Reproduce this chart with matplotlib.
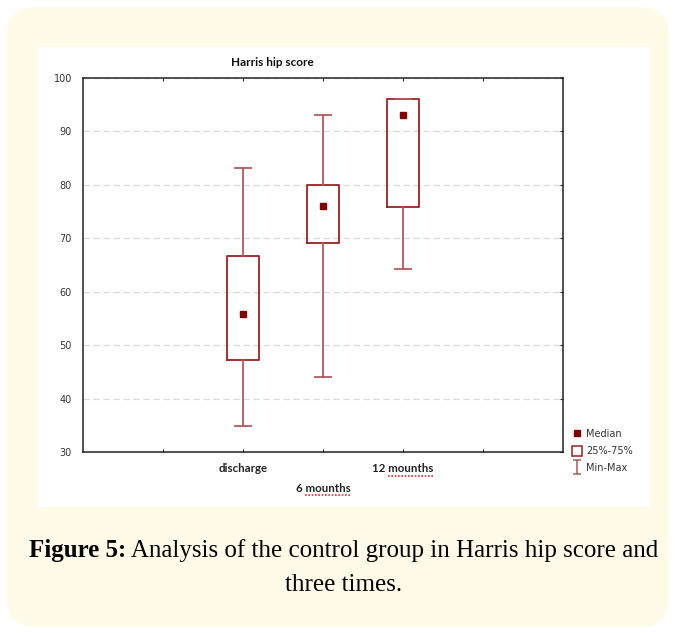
import matplotlib
matplotlib.use("Agg")
import matplotlib.pyplot as plt
from matplotlib.patches import FancyBboxPatch, Rectangle, Patch
from matplotlib.lines import Line2D
from matplotlib.path import Path

# data
groups = ["discharge", "6 mounths", "12 mounths"]
positions = [2, 3, 4]
medians = [55.9, 76.1, 93.0]
q1 = [47.2, 69.1, 75.8]
q3 = [66.7, 80.0, 96.0]
mins = [34.8, 44.1, 64.3]
maxs = [83.1, 93.1, 96.0]

box_col = "#9b2222"
whisk_col = "#b35a5a"
med_col = "#800000"

fig = plt.figure(figsize=(6.75, 6.33), dpi=100)
W, H = 675, 633

# cream card and white panel behind the chart
fig.patches.append(FancyBboxPatch((6 / W, 6 / H), 663 / W, 620 / H,
                                  boxstyle="round,pad=0,rounding_size=0.045",
                                  transform=fig.transFigure, facecolor="#fffbe8",
                                  edgecolor="none", zorder=-10))
fig.patches.append(Rectangle((38 / W, 1 - 507 / H), 612 / W, 460 / H,
                             transform=fig.transFigure, facecolor="white",
                             edgecolor="none", zorder=-9))

ax = fig.add_axes([83 / W, 1 - 452 / H, 480 / W, 374 / H])
ax.set_facecolor("none")

stats = []
for i, g in enumerate(groups):
    stats.append({"label": g, "med": medians[i], "q1": q1[i], "q3": q3[i],
                  "whislo": mins[i], "whishi": maxs[i], "fliers": []})

ax.bxp(stats, positions=positions, widths=0.39, showfliers=False,
       boxprops=dict(color=box_col, linewidth=1.3),
       whiskerprops=dict(color=whisk_col, linewidth=1.3),
       capprops=dict(color=whisk_col, linewidth=1.3),
       medianprops=dict(linewidth=0), capwidths=0.2, zorder=3)
ax.plot(positions, medians, "s", color=med_col, markersize=4.2, zorder=4)

ax.set_xlim(0, 6)
ax.set_ylim(30, 100)
ax.set_yticks(range(30, 101, 10))
ax.set_xticks([1, 2, 3, 4, 5])
ax.set_xticklabels([])
ax.tick_params(direction="in", length=2.5, width=0.8, top=True, right=True,
               labelsize=7, pad=8, colors="#222222")
ax.tick_params(axis="y", left=False)
for lab in ax.get_yticklabels():
    lab.set_color("#333333")
ax.grid(axis="y", linestyle=(0, (5, 3)), color="#d9d9d9", linewidth=0.9, zorder=0)
for s in ax.spines.values():
    s.set_linewidth(1.1)
    s.set_color("#222222")

# category labels, the middle one staggered down
lab_font = dict(family=["Lato", "DejaVu Sans"], fontweight="bold", fontsize=8.3,
                color="#222222", ha="center", va="center")
label_y = [469, 488, 469]
fig.canvas.draw()
r = fig.canvas.get_renderer()
for p, g, yy in zip(positions, groups, label_y):
    xpix = ax.transData.transform((p, 30))[0]
    t = fig.text(xpix / W, 1 - yy / H, g, **lab_font)
    if "mounths" in g:
        bb = t.get_window_extent(r)
        pre = fig.text(0, 0, g.split("mounths")[0], **lab_font)
        pw = pre.get_window_extent(r).width
        pre.remove()
        y0 = bb.y0 - 1
        fig.add_artist(Line2D([(bb.x0 + pw) / W, bb.x1 / W], [y0 / H, y0 / H],
                              transform=fig.transFigure, color="#e03030",
                              linewidth=1.2, linestyle=(0, (1, 1))))

fig.text(272 / W, 1 - 63 / H, "Harris hip score", family=["Lato", "DejaVu Sans"],
         fontweight="bold", fontsize=8.5, ha="center", va="center", color="#111111")

# legend
ibeam = Path([(-0.6, 1), (0.6, 1), (0, 1), (0, -1), (-0.6, -1), (0.6, -1)],
             [Path.MOVETO, Path.LINETO, Path.MOVETO, Path.LINETO, Path.MOVETO, Path.LINETO])
handles = [Line2D([], [], marker="s", color=med_col, linestyle="none", markersize=4),
           Patch(facecolor="white", edgecolor=box_col, linewidth=1.1),
           Line2D([], [], marker=ibeam, color=whisk_col, linestyle="none",
                  markersize=9.5, markeredgewidth=1.1)]
leg = fig.legend(handles, ["Median", "25%-75%", "Min-Max"], loc="upper left",
                 bbox_to_anchor=(572 / W, 1 - 429 / H), frameon=False,
                 fontsize=7, handlelength=1.0, handleheight=1.2, handletextpad=0.45,
                 labelspacing=0.7, borderpad=0, borderaxespad=0)
for t in leg.get_texts():
    t.set_color("#333333")

# caption
cap_font = dict(family=["Liberation Serif", "DejaVu Serif"], fontsize=18, color="black")
fig.canvas.draw()
t1 = fig.text(0, 0, "Figure 5:", fontweight="bold", va="baseline", **cap_font)
t2 = fig.text(0, 0, " Analysis of the control group in Harris hip score and",
              va="baseline", **cap_font)
w1 = t1.get_window_extent(r).width
w2 = t2.get_window_extent(r).width
x0 = (344 - (w1 + w2) / 2)
base1 = 1 - 557 / H
t1.set_position((x0 / W, base1))
t2.set_position(((x0 + w1) / W, base1))
fig.text(344 / W, 1 - 591 / H, "three times.", ha="center", va="baseline", **cap_font)

fig.savefig("out.png", dpi=100)
